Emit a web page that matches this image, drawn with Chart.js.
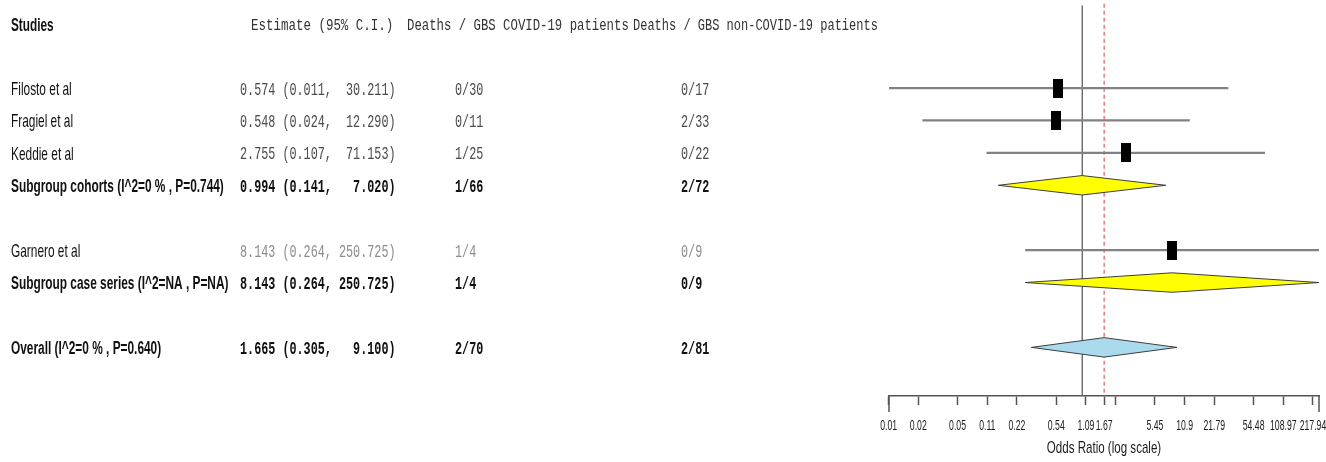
<!DOCTYPE html>
<html>
<head>
<meta charset="utf-8">
<script src="https://cdn.jsdelivr.net/npm/chart.js@4.4.1/dist/chart.umd.min.js"></script>
<style>
  html, body { margin: 0; padding: 0; background: #ffffff; }
  #wrap { width: 1326px; height: 462px; position: relative; }
</style>
</head>
<body>
<div id="wrap"><canvas id="forest"></canvas></div>
<script>
// ---- data ----
const studies = [
  'Filosto et al',
  'Fragiel et al',
  'Keddie et al',
  'Subgroup cohorts (I^2=0 % , P=0.744)',
  'Garnero et al',
  'Subgroup case series (I^2=NA , P=NA)',
  'Overall (I^2=0 % , P=0.640)'
];
const rowKinds = ['study', 'study', 'study', 'subgroup', 'study', 'subgroup', 'overall'];
const rowIndex = [0, 1, 2, 3, 5, 6, 8];
const estimates = [0.574, 0.548, 2.755, 0.994, 8.143, 8.143, 1.665];
const lowerCI = [0.011, 0.024, 0.107, 0.141, 0.264, 0.264, 0.305];
const upperCI = [30.211, 12.290, 71.153, 7.020, 250.725, 250.725, 9.100];
const covidDeaths = ['0/30', '0/11', '1/25', '1/66', '1/4', '1/4', '2/70'];
const nonCovidDeaths = ['0/17', '2/33', '0/22', '2/72', '0/9', '0/9', '2/81'];
const headers = ['Studies', 'Estimate (95% C.I.)', 'Deaths / GBS COVID-19 patients', 'Deaths / GBS non-COVID-19 patients'];
const tickValues = [0.0109, 0.0218, 0.0545, 0.109, 0.218, 0.545, 1.09, 1.665, 2.18, 5.45, 10.9, 21.79, 54.48, 108.97, 217.94];
const tickLabels = ['0.01', '0.02', '0.05', '0.11', '0.22', '0.54', '1.09', '1.67', '', '5.45', '10.9', '21.79', '54.48', '108.97', '217.94'];
const axisTitle = 'Odds Ratio (log scale)';

// ---- helpers ----
const fmtCI = i => estimates[i].toFixed(3) + ' (' + lowerCI[i].toFixed(3) + ', ' +
  upperCI[i].toFixed(3).padStart(7, ' ') + ')';
const overallIdx = rowKinds.indexOf('overall');
const mutedRows = new Set([4]);

// study square marker (tall rectangle)
const box = document.createElement('canvas');
box.width = 10; box.height = 19;
(function () { const b = box.getContext('2d'); b.fillStyle = '#000'; b.fillRect(0, 0, 10, 19); })();

const DIAMOND_H = 0.3;
const datasets = [];

// null line and pooled-estimate line
datasets.push({
  data: [{ x: 1, y: -2.55 }, { x: 1, y: 9.5 }],
  showLine: true, borderColor: '#5e5e5e', borderWidth: 1.3, pointRadius: 0, order: 9, clip: false
});
datasets.push({
  data: [{ x: estimates[overallIdx], y: -2.6 }, { x: estimates[overallIdx], y: 9.5 }],
  showLine: true, borderColor: '#e8322f', borderWidth: 1, borderDash: [4, 3], pointRadius: 0, order: 8, clip: false
});

// confidence-interval whiskers
rowKinds.forEach((k, i) => {
  if (k !== 'study') return;
  datasets.push({
    data: [{ x: lowerCI[i], y: rowIndex[i] }, { x: upperCI[i], y: rowIndex[i] }],
    showLine: true, borderColor: '#828282', borderWidth: 2.2, pointRadius: 0, order: 7
  });
});

// point estimates
datasets.push({
  data: rowKinds.map((k, i) => k === 'study' ? { x: estimates[i], y: rowIndex[i] } : null).filter(Boolean),
  pointStyle: box, pointRadius: 6, order: 1
});

// pooled diamonds
rowKinds.forEach((k, i) => {
  if (k === 'study') return;
  const r = rowIndex[i];
  datasets.push({
    data: [
      { x: lowerCI[i], y: r }, { x: estimates[i], y: r - DIAMOND_H },
      { x: upperCI[i], y: r }, { x: estimates[i], y: r + DIAMOND_H }, { x: lowerCI[i], y: r }
    ],
    showLine: true, fill: 'shape', tension: 0,
    backgroundColor: k === 'overall' ? '#a9dbec' : '#ffff00',
    borderColor: '#3c3c3c', borderWidth: 1, pointRadius: 0, order: 2
  });
});

// ---- text drawing ----
function drawText(ctx, s, x, y, font, color, sx, align) {
  ctx.save();
  ctx.font = font;
  ctx.fillStyle = color;
  ctx.textBaseline = 'middle';
  ctx.textAlign = align || 'left';
  ctx.translate(x, y);
  ctx.scale(sx, 1);
  ctx.fillText(s, 0, 0);
  ctx.restore();
}

const tablePlugin = {
  id: 'forestTable',
  afterDraw(chart) {
    const ctx = chart.ctx;
    const ys = chart.scales.y, xs = chart.scales.x;
    const SANS = '"Liberation Sans", Arial, sans-serif';
    const MONO = '"Liberation Mono", "Courier New", monospace';

    // header
    const hy = 26;
    drawText(ctx, headers[0], 11, hy, 'bold 19px ' + SANS, '#111', 0.62);
    drawText(ctx, headers[1], 251, hy, '16px ' + MONO, '#333', 0.78);
    drawText(ctx, headers[2], 407, hy, '16px ' + MONO, '#333', 0.77);
    drawText(ctx, headers[3], 633, hy, '16px ' + MONO, '#333', 0.75);

    // rows
    studies.forEach((name, i) => {
      const py = ys.getPixelForValue(rowIndex[i]) + 1.5;
      const bold = rowKinds[i] !== 'study';
      const nameFont = (bold ? 'bold ' : '') + '19px ' + SANS;
      const monoFont = (bold ? 'bold ' : '') + '19px ' + MONO;
      const numColor = bold ? '#111' : (mutedRows.has(i) ? '#8c8c8c' : '#4a4a4a');
      drawText(ctx, name, 11, py, nameFont, '#111', 0.625);
      drawText(ctx, fmtCI(i), 240, py, monoFont, numColor, 0.62);
      drawText(ctx, covidDeaths[i], 455, py, monoFont, numColor, 0.62);
      drawText(ctx, nonCovidDeaths[i], 681, py, monoFont, numColor, 0.62);
    });

    // axis end caps
    const base = xs.top;
    ctx.save();
    ctx.strokeStyle = '#555';
    ctx.lineWidth = 1.5;
    [xs.min, xs.max].forEach(v => {
      const px = Math.round(xs.getPixelForValue(v));
      ctx.beginPath(); ctx.moveTo(px, base); ctx.lineTo(px, base + 16); ctx.stroke();
    });
    ctx.restore();

    // tick labels and axis title
    tickValues.forEach((v, i) => {
      if (!tickLabels[i]) return;
      drawText(ctx, tickLabels[i], xs.getPixelForValue(v), base + 30, '14.5px ' + SANS, '#1a1a1a', 0.6, 'center');
    });
    drawText(ctx, axisTitle, (xs.left + xs.right) / 2, base + 52, '17px ' + SANS, '#1a1a1a', 0.68, 'center');
  }
};

new Chart(document.getElementById('forest'), {
  type: 'scatter',
  data: { datasets },
  options: {
    responsive: true,
    maintainAspectRatio: false,
    animation: false,
    devicePixelRatio: 1,
    layout: { padding: { left: 889, right: 5, top: 5, bottom: 0 } },
    plugins: { legend: { display: false }, tooltip: { enabled: false } },
    scales: {
      x: {
        type: 'logarithmic',
        position: 'bottom',
        min: 0.011,
        max: 250.725,
        afterBuildTicks: s => { s.ticks = tickValues.map(v => ({ value: v })); },
        afterFit: s => { s.height = 66; },
        ticks: { display: false, autoSkip: false },
        grid: { drawOnChartArea: false, drawTicks: true, tickLength: 9, tickColor: '#555', tickWidth: 1.5 },
        border: { display: true, color: '#555', width: 1.5 }
      },
      y: { type: 'linear', min: -2.5, max: 9.5, reverse: true, display: false }
    }
  },
  plugins: [tablePlugin]
});
</script>
</body>
</html>
